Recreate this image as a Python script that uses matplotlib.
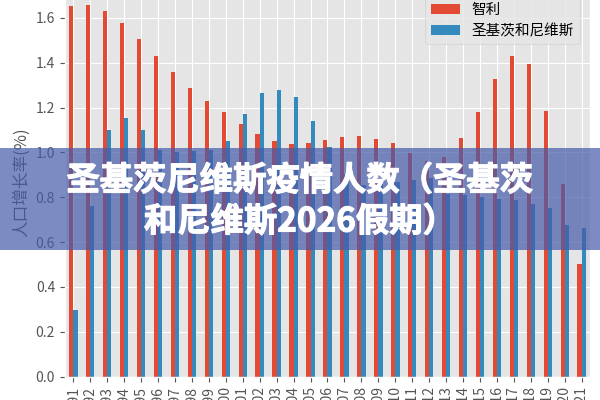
import matplotlib
matplotlib.use('Agg')
import matplotlib.pyplot as plt
import matplotlib.patheffects as pe
from matplotlib.patches import Rectangle
import numpy as np

plt.style.use('ggplot')
plt.rcParams['font.family'] = ['Noto Sans CJK SC', 'DejaVu Sans']
plt.rcParams['axes.unicode_minus'] = False

# 数据
years = [str(y) for y in range(1991, 2022)]
chile = [1.653, 1.656, 1.632, 1.579, 1.506, 1.429, 1.357, 1.289, 1.229, 1.178,
         1.127, 1.080, 1.049, 1.038, 1.042, 1.057, 1.069, 1.074, 1.062, 1.040,
         0.998, 0.962, 0.980, 1.063, 1.179, 1.329, 1.429, 1.393, 1.185, 0.861,
         0.502]
skn = [0.297, 0.763, 1.101, 1.154, 1.098, 1.010, 1.000, 1.005, 1.012, 1.053,
       1.172, 1.264, 1.280, 1.249, 1.139, 1.023, 0.905, 0.853, 0.860, 0.868,
       0.876, 0.884, 0.815, 0.808, 0.800, 0.792, 0.786, 0.768, 0.752, 0.676,
       0.662]
series_names = ['智利', '圣基茨和尼维斯']
title_line1 = '圣基茨尼维斯疫情人数（圣基茨'
title_line2 = '和尼维斯2026假期）'

fig = plt.figure(figsize=(6, 4), dpi=100)
ax = fig.add_axes([64.8 / 600, 23.3 / 400, 525.4 / 600, 390 / 400])

x = np.arange(len(years))
w = 0.25
ax.bar(x - w / 2, chile, w, color='#E24A33', label=series_names[0])
ax.bar(x + w / 2, skn, w, color='#348ABD', label=series_names[1])

ax.set_xlim(-0.5, len(years) - 0.5)
ax.set_ylim(0, max(chile) * 1.05)
ax.set_xticks(x)
ax.set_xticklabels(years, rotation=90)
ax.set_yticks(np.arange(0, 1.61, 0.2))
ax.set_yticklabels(['%.1f' % v for v in np.arange(0, 1.61, 0.2)])
ax.set_ylabel('人口增长率(%)')
leg = ax.legend(loc='upper right', fontsize=10.5, borderaxespad=0.7)

# 横幅
band = Rectangle((0, 0.375), 1, 0.255, transform=fig.transFigure,
                 facecolor=(70 / 255, 90 / 255, 170 / 255), alpha=0.7,
                 edgecolor='none', zorder=10)
fig.patches.append(band)
effects = [pe.Stroke(linewidth=0.8, foreground='white'), pe.Normal()]
fig.text(0.5, 1 - 181 / 400, title_line1, ha='center', va='center', color='white',
         fontsize=24, fontweight='bold', zorder=11, path_effects=effects)
fig.text(0.5, 1 - 222 / 400, title_line2, ha='center', va='center', color='white',
         fontsize=24, fontweight='bold', zorder=11, path_effects=effects)

fig.savefig('out.png', dpi=100)
